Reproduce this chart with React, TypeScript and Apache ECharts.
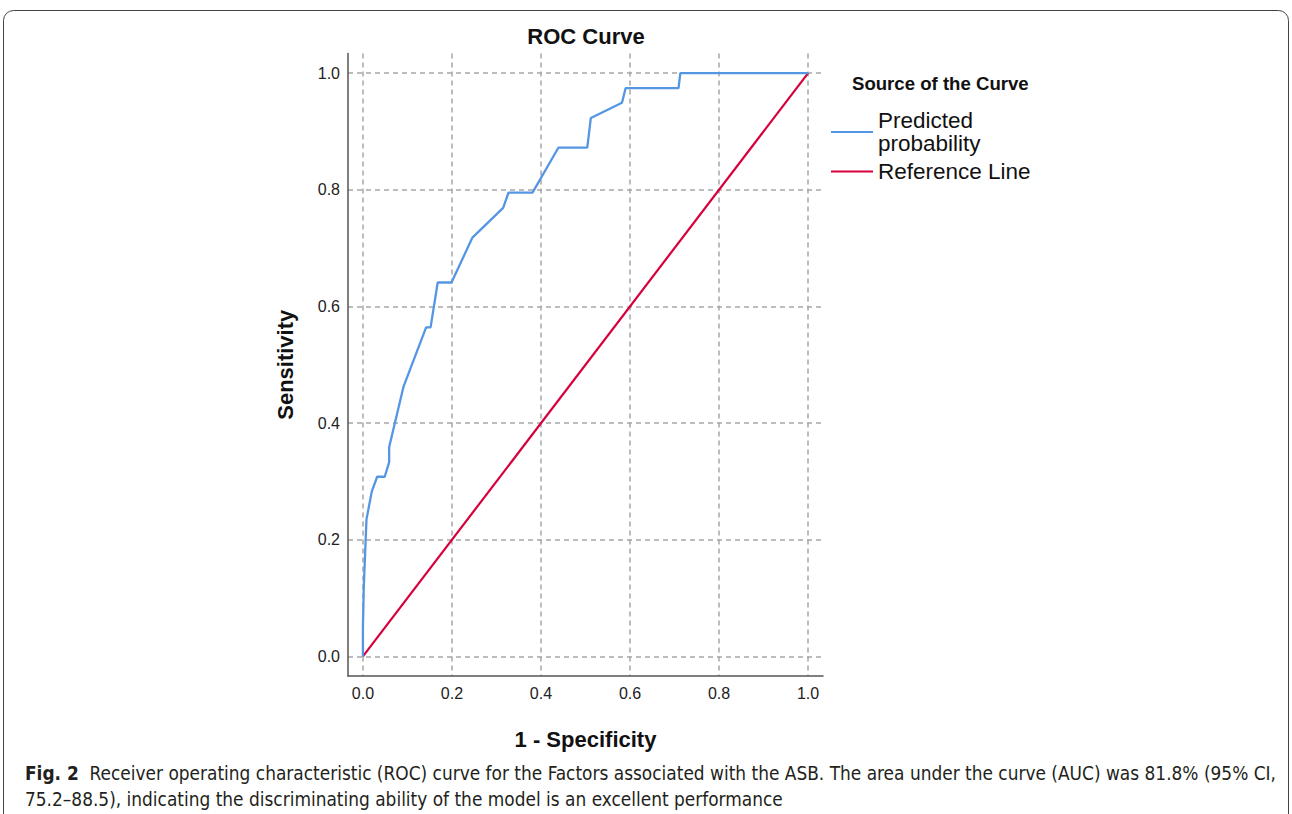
import React, { useEffect, useRef } from "react";
import * as echarts from "echarts";

// 1 - Specificity (false positive rate)
const fpr = [0, 0, 0.002, 0.008, 0.02, 0.032, 0.049, 0.059, 0.059, 0.091, 0.142, 0.152, 0.168, 0.199, 0.246, 0.315, 0.327, 0.381, 0.439, 0.504, 0.512, 0.582, 0.59, 0.709, 0.713, 1];
// Sensitivity (true positive rate)
const tpr = [0, 0.05, 0.12, 0.235, 0.283, 0.308, 0.308, 0.333, 0.359, 0.462, 0.564, 0.564, 0.641, 0.641, 0.718, 0.769, 0.795, 0.795, 0.872, 0.872, 0.923, 0.949, 0.974, 0.974, 1, 1];
const refX = [0, 1];
const refY = [0, 1];
const tickValues = [0, 0.2, 0.4, 0.6, 0.8, 1.0];
const seriesNames = ["Predicted\nprobability", "Reference Line"];

const BLUE = "#5596e4";
const RED = "#d6003a";
const FONT = "'Liberation Sans', Arial, sans-serif";
const CAPTION_FONT = "'Liberation Sans Narrow', 'DejaVu Sans Condensed', 'Liberation Sans', sans-serif";

export default function App() {
  const ref = useRef<HTMLDivElement>(null);
  useEffect(() => {
    if (!ref.current) return;
    const chart = echarts.init(ref.current, null, { renderer: "svg" });
    const axisCommon = {
      type: "value",
      min: -0.0335,
      max: 1.0335,
      axisLine: { show: true, onZero: false, lineStyle: { color: "#555", width: 1.5 } },
      axisTick: { show: false, customValues: tickValues },
      axisLabel: {
        customValues: tickValues,
        formatter: (v: number) => v.toFixed(1),
        color: "#222",
        fontSize: 16,
        fontFamily: FONT,
      },
      splitLine: {
        show: true,
        lineStyle: { color: "#a6a6a6", width: 1.5, type: [5, 4] },
      },
      nameLocation: "middle",
      nameTextStyle: { fontSize: 22, fontWeight: "bold", color: "#111", fontFamily: FONT },
    };
    chart.setOption({
      animation: false,
      backgroundColor: "#fff",
      textStyle: { fontFamily: FONT },
      title: [
        {
          text: "Source of the Curve",
          left: 852,
          top: 74,
          padding: 0,
          textStyle: { fontSize: 18.6, fontWeight: "bold", color: "#111", fontFamily: FONT },
        },
      ],
      legend: {
        orient: "vertical",
        left: 831,
        top: 109,
        padding: 0,
        icon: "rect",
        itemWidth: 42,
        itemHeight: 2,
        itemGap: 5,
        textStyle: { fontSize: 22.5, color: "#111", lineHeight: 23, fontFamily: FONT },
        data: seriesNames,
      },
      grid: { left: 348, top: 53.5, width: 475, height: 622.5 },
      xAxis: { ...axisCommon, name: "1 - Specificity", nameGap: 52, axisLabel: { ...axisCommon.axisLabel, margin: 9 } },
      yAxis: { ...axisCommon, name: "Sensitivity", nameGap: 52, axisLabel: { ...axisCommon.axisLabel, margin: 8 } },
      series: [
        {
          name: seriesNames[0],
          type: "line",
          data: fpr.map((x, i) => [x, tpr[i]]),
          showSymbol: false,
          lineStyle: { color: BLUE, width: 2.3 },
          itemStyle: { color: BLUE },
          z: 3,
        },
        {
          name: seriesNames[1],
          type: "line",
          data: refX.map((x, i) => [x, refY[i]]),
          showSymbol: false,
          lineStyle: { color: RED, width: 2.2 },
          itemStyle: { color: RED },
          z: 2,
        },
      ],
      graphic: [
        {
          type: "rect",
          shape: { x: 3.5, y: 10.5, width: 1285, height: 900, r: [10, 10, 0, 0] },
          style: { fill: "none", stroke: "#444", lineWidth: 1 },
          silent: true,
        },
        {
          type: "text",
          x: 586,
          y: 36,
          style: {
            text: "ROC Curve",
            align: "center",
            verticalAlign: "middle",
            fontSize: 22,
            fontWeight: "bold",
            fill: "#111",
            fontFamily: FONT,
          },
        },
        {
          type: "text",
          left: 25,
          top: 760,
          style: {
            text: "{b|Fig. 2}  Receiver operating characteristic (ROC) curve for the Factors associated with the ASB. The area under the curve (AUC) was 81.8% (95% CI,\n75.2–88.5), indicating the discriminating ability of the model is an excellent performance",
            fontSize: 18.9,
            lineHeight: 26,
            fill: "#231f20",
            fontFamily: CAPTION_FONT,
            rich: {
              b: { fontWeight: "bold", fontSize: 18.9, fill: "#231f20", fontFamily: CAPTION_FONT },
            },
          },
        },
      ],
    });
    return () => chart.dispose();
  }, []);
  return (
    <div
      ref={ref}
      style={{ position: "fixed", left: 0, top: 0, width: 1292, height: 814 }}
    />
  );
}
